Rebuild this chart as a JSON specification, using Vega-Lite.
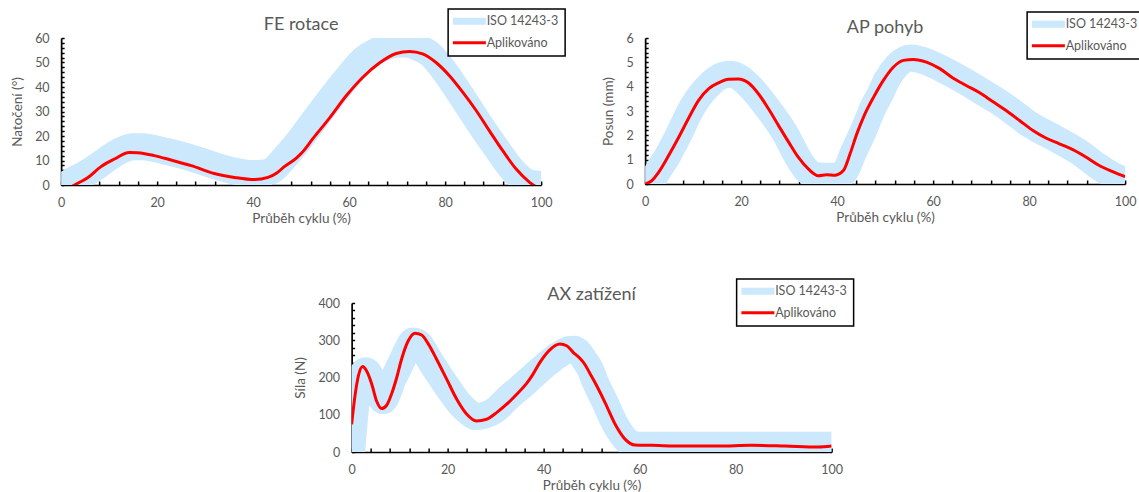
{
  "$schema": "https://vega.github.io/schema/vega-lite/v6.json",
  "background": "white",
  "padding": {"left": 10, "top": 8, "right": 0, "bottom": 0},
  "config": {
    "font": "Lato",
    "view": {"stroke": null},
    "axis": {
      "grid": false,
      "domainColor": "black", "domainWidth": 1.7,
      "tickColor": "black", "tickWidth": 1.5,
      "labelColor": "#595959", "labelFont": "Lato", "labelFontSize": 12.5,
      "titleColor": "#595959", "titleFont": "Lato", "titleFontSize": 13.5, "titleFontWeight": "normal"
    },
    "axisX": {"tickSize": -4, "labelPadding": 15, "titlePadding": 3, "labelFlush": false},
    "axisY": {"tickSize": -3, "labelPadding": 15, "titlePadding": 10},
    "title": {"font": "Lato", "fontSize": 18, "fontWeight": "normal", "color": "#595959", "frame": "group", "offset": -26},
    "legend": {
      "orient": "none", "title": null, "symbolType": "M-3,0H3", "symbolSize": 121, "symbolOffset": 9,
      "rowPadding": 0.6, "padding": 6, "labelOffset": 11,
      "labelFont": "Lato", "labelFontSize": 12.5, "labelColor": "#595959",
      "fillColor": "white", "strokeColor": "black"
    }
  },
  "datasets": {
    "fe": [
      {"s": "ISO 14243-3", "x": 0, "y": -1}, {"s": "ISO 14243-3", "x": 3, "y": 2.5}, {"s": "ISO 14243-3", "x": 5, "y": 4.5},
      {"s": "ISO 14243-3", "x": 7.3, "y": 7.3}, {"s": "ISO 14243-3", "x": 10.4, "y": 11.7}, {"s": "ISO 14243-3", "x": 13, "y": 14.5},
      {"s": "ISO 14243-3", "x": 14.9, "y": 15.6}, {"s": "ISO 14243-3", "x": 17, "y": 15.6}, {"s": "ISO 14243-3", "x": 18.8, "y": 15.1},
      {"s": "ISO 14243-3", "x": 22.2, "y": 13.6}, {"s": "ISO 14243-3", "x": 25.7, "y": 11.8}, {"s": "ISO 14243-3", "x": 29.2, "y": 9.7},
      {"s": "ISO 14243-3", "x": 32.6, "y": 7.5}, {"s": "ISO 14243-3", "x": 36.1, "y": 5.7}, {"s": "ISO 14243-3", "x": 39.6, "y": 4.7},
      {"s": "ISO 14243-3", "x": 41.7, "y": 4.8}, {"s": "ISO 14243-3", "x": 43.8, "y": 5.8}, {"s": "ISO 14243-3", "x": 46.5, "y": 11},
      {"s": "ISO 14243-3", "x": 49, "y": 16.7}, {"s": "ISO 14243-3", "x": 52.4, "y": 25.6}, {"s": "ISO 14243-3", "x": 55.9, "y": 34.7},
      {"s": "ISO 14243-3", "x": 59.4, "y": 43.3}, {"s": "ISO 14243-3", "x": 62.8, "y": 51}, {"s": "ISO 14243-3", "x": 66.3, "y": 55.2},
      {"s": "ISO 14243-3", "x": 69.8, "y": 57.5}, {"s": "ISO 14243-3", "x": 71.9, "y": 57.7}, {"s": "ISO 14243-3", "x": 74, "y": 56.4},
      {"s": "ISO 14243-3", "x": 76.8, "y": 53.5}, {"s": "ISO 14243-3", "x": 80.2, "y": 45.6}, {"s": "ISO 14243-3", "x": 83.7, "y": 35.4},
      {"s": "ISO 14243-3", "x": 87.2, "y": 24.9}, {"s": "ISO 14243-3", "x": 90.7, "y": 15}, {"s": "ISO 14243-3", "x": 94.2, "y": 5.8},
      {"s": "ISO 14243-3", "x": 97.6, "y": 0.8}, {"s": "ISO 14243-3", "x": 100, "y": 0.2},
      {"s": "Aplikováno", "x": 0, "y": -3}, {"s": "Aplikováno", "x": 2.8, "y": 0}, {"s": "Aplikováno", "x": 5.6, "y": 3.1},
      {"s": "Aplikováno", "x": 8.3, "y": 7.5}, {"s": "Aplikováno", "x": 11.1, "y": 10.6}, {"s": "Aplikováno", "x": 14.2, "y": 13.3},
      {"s": "Aplikováno", "x": 16, "y": 13.2}, {"s": "Aplikováno", "x": 19.4, "y": 12}, {"s": "Aplikováno", "x": 22.9, "y": 10.2},
      {"s": "Aplikováno", "x": 27.1, "y": 7.9}, {"s": "Aplikováno", "x": 31.9, "y": 4.7}, {"s": "Aplikováno", "x": 36.1, "y": 3.1},
      {"s": "Aplikováno", "x": 40.3, "y": 2.2}, {"s": "Aplikováno", "x": 43.1, "y": 3.1}, {"s": "Aplikováno", "x": 45, "y": 5},
      {"s": "Aplikováno", "x": 46.5, "y": 7.5}, {"s": "Aplikováno", "x": 49, "y": 11}, {"s": "Aplikováno", "x": 50.3, "y": 13.5},
      {"s": "Aplikováno", "x": 52.4, "y": 18.8}, {"s": "Aplikováno", "x": 55.9, "y": 27.3},
      {"s": "Aplikováno", "x": 59.4, "y": 36.4}, {"s": "Aplikováno", "x": 62.8, "y": 43.9}, {"s": "Aplikováno", "x": 66.3, "y": 49.8},
      {"s": "Aplikováno", "x": 69.8, "y": 53.7}, {"s": "Aplikováno", "x": 72.6, "y": 54.5}, {"s": "Aplikováno", "x": 75.3, "y": 53.5},
      {"s": "Aplikováno", "x": 78.1, "y": 50}, {"s": "Aplikováno", "x": 80.9, "y": 44.6}, {"s": "Aplikováno", "x": 83.7, "y": 37.8},
      {"s": "Aplikováno", "x": 86.5, "y": 30.3}, {"s": "Aplikováno", "x": 89.2, "y": 22.2}, {"s": "Aplikováno", "x": 92, "y": 14},
      {"s": "Aplikováno", "x": 94.8, "y": 6.5}, {"s": "Aplikováno", "x": 97.6, "y": 1.1}, {"s": "Aplikováno", "x": 100, "y": -2}
    ],
    "ap": [
      {"s": "ISO 14243-3", "x": 0, "y": -0.5}, {"s": "ISO 14243-3", "x": 2, "y": 0.3}, {"s": "ISO 14243-3", "x": 4.9, "y": 1.24},
      {"s": "ISO 14243-3", "x": 7, "y": 2.03}, {"s": "ISO 14243-3", "x": 9.7, "y": 3.12}, {"s": "ISO 14243-3", "x": 13.2, "y": 4.04},
      {"s": "ISO 14243-3", "x": 16, "y": 4.45}, {"s": "ISO 14243-3", "x": 17.7, "y": 4.51}, {"s": "ISO 14243-3", "x": 19.4, "y": 4.41},
      {"s": "ISO 14243-3", "x": 22.2, "y": 3.93}, {"s": "ISO 14243-3", "x": 25.7, "y": 3.07}, {"s": "ISO 14243-3", "x": 29.2, "y": 2.07},
      {"s": "ISO 14243-3", "x": 31.9, "y": 1.06}, {"s": "ISO 14243-3", "x": 33.5, "y": 0.6}, {"s": "ISO 14243-3", "x": 35.2, "y": 0.35},
      {"s": "ISO 14243-3", "x": 37.5, "y": 0.32}, {"s": "ISO 14243-3", "x": 40, "y": 0.32}, {"s": "ISO 14243-3", "x": 41.6, "y": 0.5},
      {"s": "ISO 14243-3", "x": 43.4, "y": 1.3}, {"s": "ISO 14243-3", "x": 45.5, "y": 2.2}, {"s": "ISO 14243-3", "x": 47.6, "y": 3.19},
      {"s": "ISO 14243-3", "x": 49, "y": 3.71}, {"s": "ISO 14243-3", "x": 50.4, "y": 4.29}, {"s": "ISO 14243-3", "x": 52.5, "y": 4.87},
      {"s": "ISO 14243-3", "x": 55.3, "y": 5.18}, {"s": "ISO 14243-3", "x": 58.1, "y": 5.06}, {"s": "ISO 14243-3", "x": 62.8, "y": 4.63},
      {"s": "ISO 14243-3", "x": 66.3, "y": 4.25}, {"s": "ISO 14243-3", "x": 69.8, "y": 3.84}, {"s": "ISO 14243-3", "x": 73.3, "y": 3.42},
      {"s": "ISO 14243-3", "x": 76.7, "y": 2.95}, {"s": "ISO 14243-3", "x": 80.2, "y": 2.44}, {"s": "ISO 14243-3", "x": 83.7, "y": 2.06},
      {"s": "ISO 14243-3", "x": 87.2, "y": 1.68}, {"s": "ISO 14243-3", "x": 90.7, "y": 1.27}, {"s": "ISO 14243-3", "x": 94.2, "y": 0.75},
      {"s": "ISO 14243-3", "x": 97.6, "y": 0.34}, {"s": "ISO 14243-3", "x": 100, "y": 0.14},
      {"s": "Aplikováno", "x": 0, "y": 0}, {"s": "Aplikováno", "x": 1.4, "y": 0.14}, {"s": "Aplikováno", "x": 2.8, "y": 0.48},
      {"s": "Aplikováno", "x": 4.9, "y": 1.17}, {"s": "Aplikováno", "x": 7, "y": 1.92}, {"s": "Aplikováno", "x": 9, "y": 2.68},
      {"s": "Aplikováno", "x": 11.1, "y": 3.43}, {"s": "Aplikováno", "x": 13.2, "y": 3.91}, {"s": "Aplikováno", "x": 15.3, "y": 4.16},
      {"s": "Aplikováno", "x": 17.4, "y": 4.3}, {"s": "Aplikováno", "x": 19.4, "y": 4.32}, {"s": "Aplikováno", "x": 21.5, "y": 4.16},
      {"s": "Aplikováno", "x": 23.6, "y": 3.71}, {"s": "Aplikováno", "x": 25.7, "y": 3.09}, {"s": "Aplikováno", "x": 27.8, "y": 2.4},
      {"s": "Aplikováno", "x": 29.9, "y": 1.72}, {"s": "Aplikováno", "x": 31.9, "y": 1.1}, {"s": "Aplikováno", "x": 34, "y": 0.62},
      {"s": "Aplikováno", "x": 36.1, "y": 0.34}, {"s": "Aplikováno", "x": 37.8, "y": 0.38}, {"s": "Aplikováno", "x": 39.6, "y": 0.36},
      {"s": "Aplikováno", "x": 41.3, "y": 0.55}, {"s": "Aplikováno", "x": 42.7, "y": 1.24}, {"s": "Aplikováno", "x": 44.1, "y": 2.06},
      {"s": "Aplikováno", "x": 45.5, "y": 2.75}, {"s": "Aplikováno", "x": 47.6, "y": 3.57}, {"s": "Aplikováno", "x": 49.6, "y": 4.25},
      {"s": "Aplikováno", "x": 51.7, "y": 4.8}, {"s": "Aplikováno", "x": 53.8, "y": 5.08}, {"s": "Aplikováno", "x": 55.9, "y": 5.12},
      {"s": "Aplikováno", "x": 58.6, "y": 5.01}, {"s": "Aplikováno", "x": 61.4, "y": 4.74}, {"s": "Aplikováno", "x": 64.2, "y": 4.35},
      {"s": "Aplikováno", "x": 66.9, "y": 4.05}, {"s": "Aplikováno", "x": 69.7, "y": 3.75}, {"s": "Aplikováno", "x": 72.4, "y": 3.39},
      {"s": "Aplikováno", "x": 75.2, "y": 3.02}, {"s": "Aplikováno", "x": 78, "y": 2.61}, {"s": "Aplikováno", "x": 80.8, "y": 2.2},
      {"s": "Aplikováno", "x": 83.5, "y": 1.89}, {"s": "Aplikováno", "x": 86.3, "y": 1.65}, {"s": "Aplikováno", "x": 89.1, "y": 1.41},
      {"s": "Aplikováno", "x": 91.9, "y": 1.1}, {"s": "Aplikováno", "x": 94.7, "y": 0.75}, {"s": "Aplikováno", "x": 97.4, "y": 0.51},
      {"s": "Aplikováno", "x": 100, "y": 0.3}
    ],
    "ax": [
      {"s": "ISO 14243-3", "x": 0, "y": 0}, {"s": "ISO 14243-3", "x": 1, "y": 140}, {"s": "ISO 14243-3", "x": 2, "y": 205},
      {"s": "ISO 14243-3", "x": 3, "y": 218}, {"s": "ISO 14243-3", "x": 4.5, "y": 190}, {"s": "ISO 14243-3", "x": 5.5, "y": 160},
      {"s": "ISO 14243-3", "x": 6.6, "y": 138}, {"s": "ISO 14243-3", "x": 7.6, "y": 160}, {"s": "ISO 14243-3", "x": 8.3, "y": 186},
      {"s": "ISO 14243-3", "x": 9.4, "y": 216}, {"s": "ISO 14243-3", "x": 10.5, "y": 245}, {"s": "ISO 14243-3", "x": 11.5, "y": 272},
      {"s": "ISO 14243-3", "x": 12.8, "y": 298}, {"s": "ISO 14243-3", "x": 14.2, "y": 290}, {"s": "ISO 14243-3", "x": 15.2, "y": 270},
      {"s": "ISO 14243-3", "x": 16.3, "y": 246}, {"s": "ISO 14243-3", "x": 18.4, "y": 204}, {"s": "ISO 14243-3", "x": 20.5, "y": 164},
      {"s": "ISO 14243-3", "x": 22.6, "y": 128}, {"s": "ISO 14243-3", "x": 24.6, "y": 104}, {"s": "ISO 14243-3", "x": 25.8, "y": 95},
      {"s": "ISO 14243-3", "x": 27.5, "y": 98}, {"s": "ISO 14243-3", "x": 30.2, "y": 115}, {"s": "ISO 14243-3", "x": 32.3, "y": 142},
      {"s": "ISO 14243-3", "x": 35.1, "y": 173}, {"s": "ISO 14243-3", "x": 37.8, "y": 204}, {"s": "ISO 14243-3", "x": 40.6, "y": 236},
      {"s": "ISO 14243-3", "x": 43.4, "y": 263}, {"s": "ISO 14243-3", "x": 45.3, "y": 275}, {"s": "ISO 14243-3", "x": 46.5, "y": 276},
      {"s": "ISO 14243-3", "x": 47.6, "y": 264}, {"s": "ISO 14243-3", "x": 48.6, "y": 245}, {"s": "ISO 14243-3", "x": 49.6, "y": 225},
      {"s": "ISO 14243-3", "x": 50.7, "y": 190}, {"s": "ISO 14243-3", "x": 52.8, "y": 133}, {"s": "ISO 14243-3", "x": 54.9, "y": 75},
      {"s": "ISO 14243-3", "x": 57, "y": 35}, {"s": "ISO 14243-3", "x": 58.5, "y": 20}, {"s": "ISO 14243-3", "x": 60, "y": 18},
      {"s": "ISO 14243-3", "x": 70, "y": 18}, {"s": "ISO 14243-3", "x": 80, "y": 18}, {"s": "ISO 14243-3", "x": 90, "y": 18},
      {"s": "ISO 14243-3", "x": 100, "y": 18},
      {"s": "Aplikováno", "x": 0, "y": 74.5}, {"s": "Aplikováno", "x": 0.7, "y": 150.7}, {"s": "Aplikováno", "x": 1.4, "y": 204},
      {"s": "Aplikováno", "x": 2.3, "y": 229.6}, {"s": "Aplikováno", "x": 3.1, "y": 218}, {"s": "Aplikováno", "x": 4.2, "y": 182},
      {"s": "Aplikováno", "x": 5.2, "y": 137}, {"s": "Aplikováno", "x": 6.25, "y": 116.6}, {"s": "Aplikováno", "x": 7.3, "y": 125.5},
      {"s": "Aplikováno", "x": 8.3, "y": 155}, {"s": "Aplikováno", "x": 9.4, "y": 200}, {"s": "Aplikováno", "x": 10.4, "y": 249},
      {"s": "Aplikováno", "x": 11.8, "y": 298.6}, {"s": "Aplikováno", "x": 13.2, "y": 319}, {"s": "Aplikováno", "x": 14.6, "y": 314},
      {"s": "Aplikováno", "x": 16, "y": 289.7}, {"s": "Aplikováno", "x": 17.7, "y": 249}, {"s": "Aplikováno", "x": 19.8, "y": 195.6},
      {"s": "Aplikováno", "x": 21.9, "y": 141.7}, {"s": "Aplikováno", "x": 24, "y": 101.4}, {"s": "Aplikováno", "x": 26, "y": 83.4},
      {"s": "Aplikováno", "x": 28.1, "y": 87.9}, {"s": "Aplikováno", "x": 30.2, "y": 105.8}, {"s": "Aplikováno", "x": 32.3, "y": 128.3},
      {"s": "Aplikováno", "x": 34.4, "y": 155.2}, {"s": "Aplikováno", "x": 36.5, "y": 184.7}, {"s": "Aplikováno", "x": 37.8, "y": 209},
      {"s": "Aplikováno", "x": 39.2, "y": 240}, {"s": "Aplikováno", "x": 41.3, "y": 274.4}, {"s": "Aplikováno", "x": 43.4, "y": 289.7},
      {"s": "Aplikováno", "x": 44.8, "y": 285.2}, {"s": "Aplikováno", "x": 46.2, "y": 267}, {"s": "Aplikováno", "x": 47.6, "y": 251},
      {"s": "Aplikováno", "x": 48.6, "y": 235}, {"s": "Aplikováno", "x": 49.6, "y": 212}, {"s": "Aplikováno", "x": 50.7, "y": 186.5},
      {"s": "Aplikováno", "x": 52.8, "y": 132.7}, {"s": "Aplikováno", "x": 54.9, "y": 74.5}, {"s": "Aplikováno", "x": 57, "y": 34},
      {"s": "Aplikováno", "x": 59, "y": 18.8}, {"s": "Aplikováno", "x": 62.5, "y": 17.9}, {"s": "Aplikováno", "x": 69.4, "y": 16},
      {"s": "Aplikováno", "x": 76.3, "y": 16}, {"s": "Aplikováno", "x": 83.3, "y": 17.9}, {"s": "Aplikováno", "x": 90.3, "y": 16},
      {"s": "Aplikováno", "x": 97.2, "y": 13.5}, {"s": "Aplikováno", "x": 100, "y": 16}
    ]
  },
  "resolve": {"scale": {"color": "independent"}, "legend": {"color": "independent"}},
  "spacing": 53,
  "center": true,
  "vconcat": [
    {
      "spacing": 35,
      "resolve": {"scale": {"color": "independent"}, "legend": {"color": "independent"}},
      "hconcat": [
        {
          "width": 480, "height": 147,
          "title": {"text": "FE rotace"},
          "data": {"name": "fe"},
          "encoding": {
            "x": {"field": "x", "type": "quantitative", "scale": {"domain": [0, 100], "nice": false, "zero": false},
              "axis": {"title": "Průběh cyklu (%)", "values": [0,4,8,12,16,20,24,28,32,36,40,44,48,52,56,60,64,68,72,76,80,84,88,92,96,100], "labelExpr": "datum.value % 20 === 0 ? datum.label : ''"}},
            "y": {"field": "y", "type": "quantitative", "scale": {"domain": [0, 60], "nice": false},
              "axis": {"title": "Natočení (°)", "values": [0,2,4,6,8,10,12,14,16,18,20,22,24,26,28,30,32,34,36,38,40,42,44,46,48,50,52,54,56,58,60], "labelExpr": "datum.value % 10 === 0 ? datum.label : ''"}},
            "color": {"field": "s", "type": "nominal",
              "scale": {"domain": ["ISO 14243-3", "Aplikováno"], "range": ["#cce8fc", "#ff0000"]},
              "legend": {"legendX": 387, "legendY": -29,
                "encode": {"symbols": {"update": {"strokeWidth": {"signal": "datum.value === 'ISO 14243-3' ? 7 : 3"}, "fill": {"value": "transparent"}}},
                           "legend": {"update": {"strokeWidth": {"value": 1.5}}}}}}
          },
          "layer": [
            {"transform": [{"filter": "datum.s === 'ISO 14243-3'"}], "mark": {"type": "line", "strokeWidth": 27, "clip": true, "interpolate": "monotone", "strokeCap": "butt", "strokeJoin": "round"}, "encoding": {}},
            {"transform": [{"filter": "datum.s === 'Aplikováno'"}], "mark": {"type": "line", "strokeWidth": 3, "clip": true, "interpolate": "monotone"}, "encoding": {}}
          ]
        },
        {
          "width": 480, "height": 146,
          "title": {"text": "AP pohyb"},
          "data": {"name": "ap"},
          "encoding": {
            "x": {"field": "x", "type": "quantitative", "scale": {"domain": [0, 100], "nice": false, "zero": false},
              "axis": {"title": "Průběh cyklu (%)", "values": [0,4,8,12,16,20,24,28,32,36,40,44,48,52,56,60,64,68,72,76,80,84,88,92,96,100], "labelExpr": "datum.value % 20 === 0 ? datum.label : ''"}},
            "y": {"field": "y", "type": "quantitative", "scale": {"domain": [0, 6], "nice": false},
              "axis": {"title": "Posun (mm)", "values": [0,0.2,0.4,0.6,0.8,1,1.2,1.4,1.6,1.8,2,2.2,2.4,2.6,2.8,3,3.2,3.4,3.6,3.8,4,4.2,4.4,4.6,4.8,5,5.2,5.4,5.6,5.8,6], "labelExpr": "datum.value % 1 === 0 ? format(datum.value, 'd') : ''"}},
            "color": {"field": "s", "type": "nominal",
              "scale": {"domain": ["ISO 14243-3", "Aplikováno"], "range": ["#cce8fc", "#ff0000"]},
              "legend": {"legendX": 382, "legendY": -26,
                "encode": {"symbols": {"update": {"strokeWidth": {"signal": "datum.value === 'ISO 14243-3' ? 7 : 3"}, "fill": {"value": "transparent"}}},
                           "legend": {"update": {"strokeWidth": {"value": 1.5}}}}}}
          },
          "layer": [
            {"transform": [{"filter": "datum.s === 'ISO 14243-3'"}], "mark": {"type": "line", "strokeWidth": 27, "clip": true, "interpolate": "monotone", "strokeCap": "butt", "strokeJoin": "round"}, "encoding": {}},
            {"transform": [{"filter": "datum.s === 'Aplikováno'"}], "mark": {"type": "line", "strokeWidth": 3, "clip": true, "interpolate": "monotone"}, "encoding": {}}
          ]
        }
      ]
    },
    {
      "width": 480, "height": 149,
      "title": {"text": "AX zatížení"},
      "data": {"name": "ax"},
      "encoding": {
        "x": {"field": "x", "type": "quantitative", "scale": {"domain": [0, 100], "nice": false, "zero": false},
          "axis": {"title": "Průběh cyklu (%)", "values": [0,4,8,12,16,20,24,28,32,36,40,44,48,52,56,60,64,68,72,76,80,84,88,92,96,100], "labelExpr": "datum.value % 20 === 0 ? datum.label : ''"}},
        "y": {"field": "y", "type": "quantitative", "scale": {"domain": [0, 400], "nice": false},
          "axis": {"title": "Síla (N)", "values": [0,20,40,60,80,100,120,140,160,180,200,220,240,260,280,300,320,340,360,380,400], "labelExpr": "datum.value % 100 === 0 ? datum.label : ''"}},
        "color": {"field": "s", "type": "nominal",
          "scale": {"domain": ["ISO 14243-3", "Aplikováno"], "range": ["#cce8fc", "#ff0000"]},
          "legend": {"legendX": 385, "legendY": -24,
            "encode": {"symbols": {"update": {"strokeWidth": {"signal": "datum.value === 'ISO 14243-3' ? 7 : 3"}, "fill": {"value": "transparent"}}},
                       "legend": {"update": {"strokeWidth": {"value": 1.5}}}}}}
      },
      "layer": [
        {"transform": [{"filter": "datum.s === 'ISO 14243-3'"}], "mark": {"type": "line", "strokeWidth": 27, "clip": true, "interpolate": "monotone", "strokeCap": "butt", "strokeJoin": "round"}, "encoding": {}},
        {"transform": [{"filter": "datum.s === 'Aplikováno'"}], "mark": {"type": "line", "strokeWidth": 3, "clip": true, "interpolate": "monotone"}, "encoding": {}}
      ]
    }
  ]
}
